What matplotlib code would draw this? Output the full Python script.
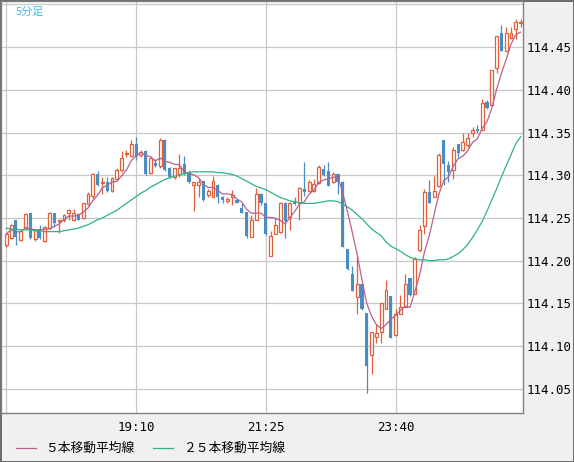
import numpy as np
import pandas as pd
import matplotlib
matplotlib.use("Agg")
import matplotlib.pyplot as plt
from matplotlib.lines import Line2D

# 5-minute USD/JPY candles
opens = [114.218, 114.227, 114.247, 114.224, 114.239, 114.256, 114.225, 114.237, 114.223, 114.238,
         114.256, 114.246, 114.247, 114.256, 114.247, 114.255, 114.250, 114.266, 114.276, 114.302,
         114.291, 114.292, 114.281, 114.296, 114.306, 114.325, 114.323, 114.336, 114.324, 114.328,
         114.303, 114.314, 114.311, 114.341, 114.309, 114.298, 114.301, 114.313, 114.303, 114.288,
         114.288, 114.293, 114.277, 114.274, 114.289, 114.275, 114.270, 114.275, 114.271, 114.262,
         114.257, 114.228, 114.248, 114.278, 114.267, 114.206, 114.231, 114.233, 114.268, 114.251,
         114.270, 114.267, 114.284, 114.281, 114.281, 114.291, 114.307, 114.305, 114.292, 114.302,
         114.292, 114.214, 114.184, 114.157, 114.173, 114.139, 114.090, 114.111, 114.116, 114.143,
         114.159, 114.113, 114.138, 114.146, 114.180, 114.161, 114.212, 114.241, 114.280, 114.275,
         114.287, 114.341, 114.312, 114.306, 114.336, 114.329, 114.335, 114.349, 114.354, 114.353,
         114.386, 114.382, 114.425, 114.466, 114.445, 114.461, 114.471, 114.478]
highs = [114.232, 114.243, 114.248, 114.236, 114.256, 114.256, 114.236, 114.242, 114.240, 114.257,
         114.256, 114.248, 114.255, 114.261, 114.261, 114.256, 114.268, 114.280, 114.303, 114.305,
         114.298, 114.298, 114.298, 114.309, 114.328, 114.329, 114.341, 114.345, 114.330, 114.330,
         114.321, 114.319, 114.344, 114.342, 114.310, 114.309, 114.325, 114.323, 114.306, 114.292,
         114.297, 114.293, 114.284, 114.299, 114.290, 114.276, 114.275, 114.283, 114.272, 114.267,
         114.257, 114.253, 114.285, 114.279, 114.268, 114.235, 114.251, 114.269, 114.269, 114.269,
         114.274, 114.286, 114.315, 114.294, 114.295, 114.312, 114.312, 114.315, 114.304, 114.303,
         114.293, 114.214, 114.194, 114.206, 114.173, 114.139, 114.117, 114.126, 114.150, 114.177,
         114.159, 114.143, 114.160, 114.184, 114.180, 114.204, 114.242, 114.284, 114.294, 114.299,
         114.326, 114.341, 114.317, 114.333, 114.336, 114.349, 114.349, 114.357, 114.359, 114.389,
         114.388, 114.423, 114.463, 114.476, 114.473, 114.474, 114.483, 114.483]
lows = [114.216, 114.225, 114.218, 114.223, 114.237, 114.225, 114.223, 114.225, 114.222, 114.237,
        114.239, 114.232, 114.245, 114.248, 114.246, 114.247, 114.249, 114.265, 114.272, 114.287,
        114.278, 114.280, 114.280, 114.295, 114.304, 114.321, 114.321, 114.318, 114.321, 114.300,
        114.302, 114.310, 114.309, 114.305, 114.297, 114.296, 114.298, 114.300, 114.291, 114.258,
        114.275, 114.270, 114.274, 114.274, 114.268, 114.267, 114.267, 114.265, 114.267, 114.256,
        114.227, 114.228, 114.247, 114.265, 114.230, 114.206, 114.231, 114.232, 114.227, 114.236,
        114.265, 114.247, 114.276, 114.281, 114.280, 114.290, 114.299, 114.287, 114.291, 114.278,
        114.216, 114.189, 114.164, 114.138, 114.142, 114.045, 114.067, 114.104, 114.104, 114.143,
        114.109, 114.112, 114.137, 114.146, 114.159, 114.161, 114.210, 114.231, 114.267, 114.275,
        114.286, 114.288, 114.292, 114.296, 114.321, 114.328, 114.333, 114.345, 114.349, 114.353,
        114.377, 114.382, 114.420, 114.446, 114.445, 114.459, 114.459, 114.473]
closes = [114.231, 114.242, 114.228, 114.235, 114.255, 114.227, 114.236, 114.227, 114.239, 114.256,
          114.244, 114.248, 114.254, 114.259, 114.256, 114.248, 114.267, 114.278, 114.302, 114.288,
          114.292, 114.281, 114.297, 114.306, 114.320, 114.326, 114.337, 114.323, 114.327, 114.302,
          114.320, 114.311, 114.341, 114.306, 114.298, 114.308, 114.309, 114.301, 114.292, 114.292,
          114.292, 114.271, 114.281, 114.293, 114.274, 114.271, 114.272, 114.277, 114.267, 114.256,
          114.229, 114.248, 114.278, 114.267, 114.231, 114.229, 114.242, 114.267, 114.246, 114.267,
          114.266, 114.285, 114.280, 114.292, 114.290, 114.310, 114.300, 114.287, 114.301, 114.292,
          114.216, 114.190, 114.165, 114.173, 114.143, 114.077, 114.117, 114.115, 114.150, 114.166,
          114.110, 114.137, 114.146, 114.173, 114.160, 114.202, 114.236, 114.280, 114.268, 114.282,
          114.324, 114.313, 114.304, 114.330, 114.326, 114.339, 114.344, 114.353, 114.352, 114.385,
          114.379, 114.423, 114.463, 114.446, 114.467, 114.467, 114.479, 114.479]
# 25-bar moving average as drawn on the chart (needs history before the first bar)
ma25 = [114.238, 114.237, 114.237, 114.236, 114.236, 114.236, 114.235, 114.235, 114.234, 114.234,
        114.234, 114.234, 114.235, 114.236, 114.237, 114.238, 114.240, 114.242, 114.245, 114.248,
        114.250, 114.253, 114.256, 114.259, 114.263, 114.267, 114.271, 114.275, 114.279, 114.282,
        114.286, 114.289, 114.292, 114.295, 114.297, 114.299, 114.300, 114.302, 114.303, 114.304,
        114.304, 114.304, 114.304, 114.304, 114.303, 114.303, 114.302, 114.301, 114.299, 114.296,
        114.293, 114.290, 114.287, 114.285, 114.283, 114.280, 114.277, 114.274, 114.272, 114.270,
        114.269, 114.268, 114.267, 114.267, 114.267, 114.268, 114.269, 114.270, 114.270, 114.269,
        114.266, 114.263, 114.259, 114.254, 114.249, 114.243, 114.237, 114.233, 114.229, 114.222,
        114.217, 114.214, 114.211, 114.207, 114.204, 114.202, 114.201, 114.201, 114.200, 114.200,
        114.201, 114.201, 114.202, 114.205, 114.208, 114.213, 114.219, 114.227, 114.236, 114.246,
        114.258, 114.271, 114.284, 114.298, 114.311, 114.324, 114.337, 114.345]
start_time = "16:55"
tick_times = ["16:55", "19:10", "21:25", "23:40"]
price_ticks = [114.05, 114.10, 114.15, 114.20, 114.25, 114.30, 114.35, 114.40, 114.45, 114.50]

df = pd.DataFrame({"open": opens, "high": highs, "low": lows, "close": closes, "ma25": ma25})
df["ma5"] = df["close"].rolling(5, min_periods=1).mean()
df["time"] = pd.date_range("2021-11-24 " + start_time, periods=len(df), freq="5min").strftime("%H:%M")

UP = "#e0603c"
DOWN = "#4a8cc4"
W, H = 574, 462

fig = plt.figure(figsize=(W / 100, H / 100), dpi=100, facecolor="#f0f0f0",
                 edgecolor="#6e6e6e", linewidth=2)
ax = fig.add_axes([1 / W, 1 - 413 / H, 522 / W, 412 / H])
ax.set_facecolor("white")

x = np.arange(len(df))
up = df["close"] >= df["open"]
dn = ~up

# wicks first, bodies on top
ax.vlines(x[up], df["low"][up], df["high"][up], color=UP, lw=0.9, zorder=2)
ax.vlines(x[dn], df["low"][dn], df["high"][dn], color=DOWN, lw=0.9, zorder=2)
ax.bar(x[up], (df["close"] - df["open"])[up], bottom=df["open"][up], width=0.6,
       facecolor="white", edgecolor=UP, lw=0.9, zorder=3)
ax.bar(x[dn], (df["open"] - df["close"])[dn], bottom=df["close"][dn], width=0.65,
       color=DOWN, lw=0, zorder=3)

ax.plot(x, df["ma5"], color="#b8608e", lw=0.9, zorder=4)
ax.plot(x, df["ma25"], color="#2db57a", lw=0.9, zorder=4)

ax.set_xlim(-1.1, 107.5)
ax.set_ylim(114.0216, 114.504)

xt = [i for i, t in enumerate(df["time"]) if t in tick_times]
ax.set_xticks(xt)
ax.set_xticklabels(["" if t == start_time else t for t in df["time"][xt]])
ax.set_yticks(price_ticks)
ax.set_yticklabels([f"{p:.2f}" if p < 114.5 else "" for p in price_ticks])
ax.yaxis.tick_right()
ax.tick_params(axis="both", length=0, labelsize=9, labelcolor="black")
ax.tick_params(axis="x", pad=6)
ax.tick_params(axis="y", pad=2.5)
for lab in ax.get_xticklabels() + ax.get_yticklabels():
    lab.set_family("DejaVu Sans Mono")
ax.grid(True, color="#c8c8c8", lw=0.9, zorder=0)
ax.set_axisbelow(True)
for s in ax.spines.values():
    s.set_color("#808080")
    s.set_linewidth(1)

ax.text(15 / 522, 1 - 11 / 412, "5分足", transform=ax.transAxes, color="#3cbcf0",
        fontsize=8, family=["Noto Sans CJK JP", "DejaVu Sans"], va="center", ha="left")

# legend row under the axis
ly = 1 - 448 / H
fig.add_artist(Line2D([16 / W, 36 / W], [ly, ly], color="#b8608e", lw=0.9))
fig.text(45 / W, ly, "５本移動平均線", fontsize=9.2, va="center", ha="left",
         family=["Noto Sans CJK JP", "DejaVu Sans"])
fig.add_artist(Line2D([153 / W, 173 / W], [ly, ly], color="#2db57a", lw=0.9))
fig.text(183 / W, ly, "２５本移動平均線", fontsize=9.2, va="center", ha="left",
         family=["Noto Sans CJK JP", "DejaVu Sans"])

fig.savefig("out.png", dpi=100, facecolor=fig.get_facecolor(), edgecolor=fig.get_edgecolor())
